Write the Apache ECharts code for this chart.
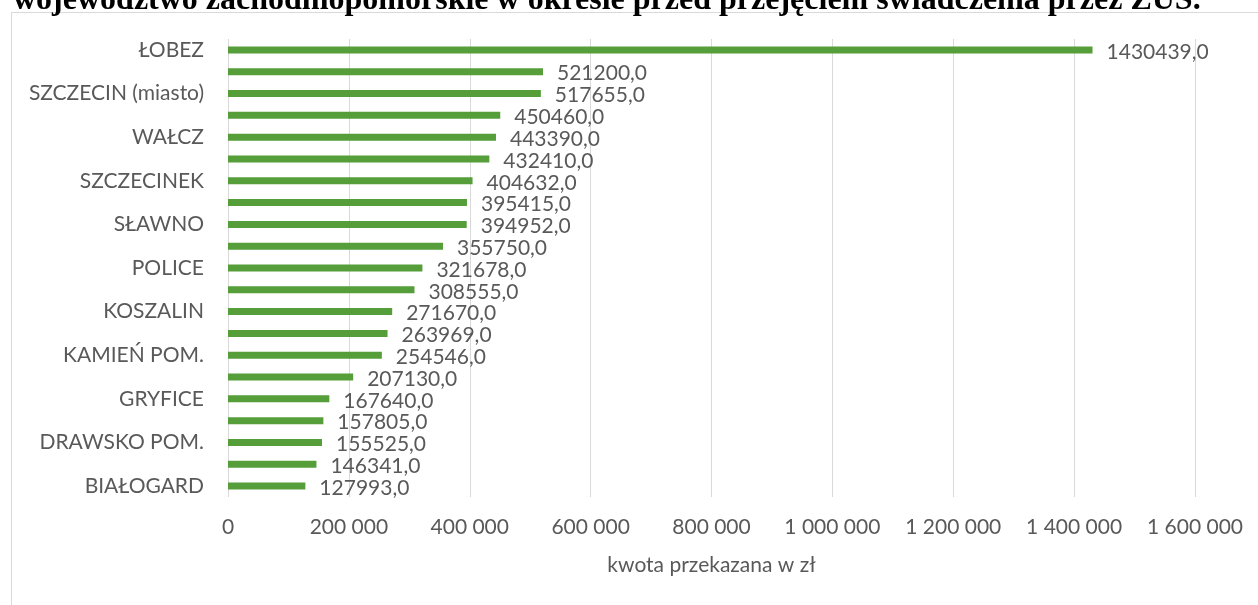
<!DOCTYPE html>
<html>
<head>
<meta charset="utf-8">
<script src="https://cdn.jsdelivr.net/npm/echarts@6/dist/echarts.min.js"></script>
<style>
html,body{margin:0;padding:0;background:#fff;}
#c{width:1258px;height:605px;}
</style>
</head>
<body>
<div id="c"></div>
<script>
const titleText = 'województwo zachodniopomorskie w okresie przed przejęciem świadczenia przez ZUS.';
const categories = ['ŁOBEZ','STARGARD','SZCZECIN (miasto)','GOLENIÓW','WAŁCZ','GRYFINO','SZCZECINEK','KOŁOBRZEG','SŁAWNO','MYŚLIBÓRZ','POLICE','CHOSZCZNO','KOSZALIN','PYRZYCE','KAMIEŃ POM.','ŚWIDWIN','GRYFICE','ŚWINOUJŚCIE','DRAWSKO POM.','KOSZALIN (miasto)','BIAŁOGARD'];
const values = [1430439,521200,517655,450460,443390,432410,404632,395415,394952,355750,321678,308555,271670,263969,254546,207130,167640,157805,155525,146341,127993];
const axisName = 'kwota przekazana w zł';
const xTicks = [0,200000,400000,600000,800000,1000000,1200000,1400000,1600000];

const fmtThousands = v => String(v).replace(/\B(?=(\d{3})+(?!\d))/g, ' ');
const fmtLabel = v => v.toFixed(1).replace('.', ',');
const txt = {color:'#595959', fontFamily:'Lato', fontSize:21};

const chart = echarts.init(document.getElementById('c'), null, {renderer:'canvas'});
chart.setOption({
  animation:false,
  title:{
    text:titleText, left:8, top:-20,
    textStyle:{fontFamily:'Liberation Serif', fontWeight:'bold', fontSize:32, color:'#000'}
  },
  graphic:[{
    type:'rect', left:9, top:10, silent:true, z:-1,
    shape:{x:0,y:0,width:1400,height:700},
    style:{fill:'none', stroke:'#d9d9d9', lineWidth:1}
  }],
  grid:{left:228, right:63, top:39, bottom:108},
  xAxis:{
    type:'value', min:xTicks[0], max:xTicks[xTicks.length-1], interval:xTicks[1]-xTicks[0],
    axisLine:{show:false}, axisTick:{show:false},
    splitLine:{show:true, lineStyle:{color:'#d9d9d9', width:1}},
    axisLabel:Object.assign({margin:20, formatter:fmtThousands}, txt),
    name:axisName, nameLocation:'middle', nameGap:58,
    nameTextStyle:txt
  },
  yAxis:{
    type:'category', inverse:true, data:categories,
    axisLine:{show:false}, axisTick:{show:false},
    axisLabel:Object.assign({interval:1, margin:24}, txt)
  },
  series:[{
    type:'bar', data:values, barWidth:7,
    itemStyle:{color:'#559e3a'},
    label:Object.assign({show:true, position:'right', distance:14, offset:[0,2], formatter:p=>fmtLabel(p.value)}, txt)
  }]
});
</script>
</body>
</html>
